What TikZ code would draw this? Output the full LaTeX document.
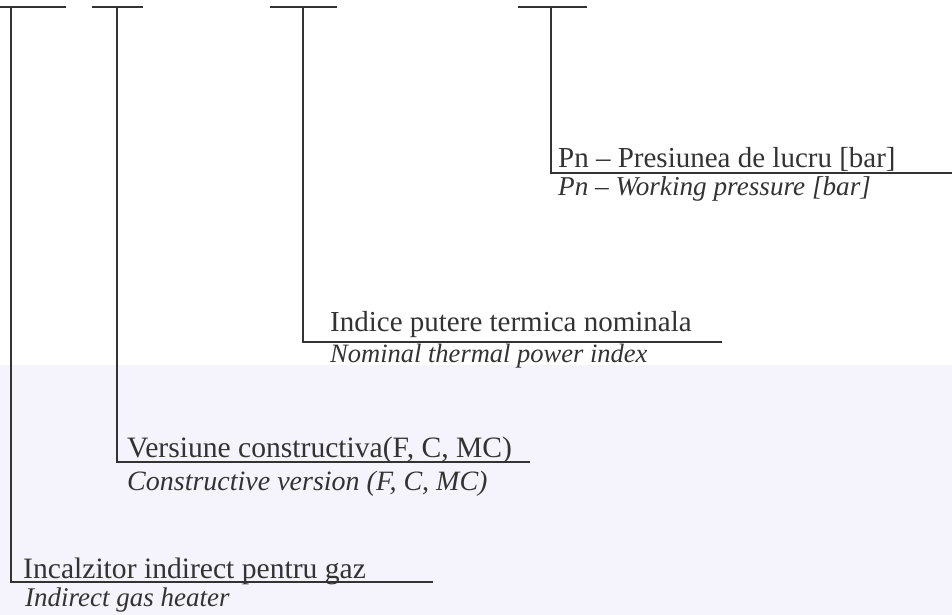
\documentclass[tikz,border=0pt]{standalone}
\usepackage{fontspec}
\setmainfont{Liberation Serif}
\usetikzlibrary{backgrounds}
\definecolor{scanink}{HTML}{333333}
\definecolor{paper}{HTML}{F5F4FC}

\begin{document}
\begin{tikzpicture} [x=1pt, y=-1pt]
\tikzstyle{every node}=[inner sep=0pt, anchor=base west, text=scanink];
\tikzstyle{ro}=[font=\fontsize{29}{32}\selectfont];
\tikzstyle{en}=[font=\fontsize{26.5}{30}\selectfont\itshape];
\tikzstyle{lead}=[draw=scanink, line width=1.3pt];
\useasboundingbox (0,0) rectangle (952,615);
\fill [paper] (0,365) rectangle (952,615);
% top marks
\coordinate (t1) at (11,7);
\coordinate (t2) at (117,7);
\coordinate (t3) at (303,7);
\coordinate (t4) at (551,7);
\draw [lead] (0,7) -- (66,7) (92,7) -- (143,7) (270,7) -- (337,7) (518,7) -- (587,7);
% corners and line ends
\coordinate (c1) at (11,582);
\coordinate (c2) at (117,462);
\coordinate (c3) at (303,342);
\coordinate (c4) at (551,173);
\coordinate (e1) at (433,582);
\coordinate (e2) at (530,462);
\coordinate (e3) at (722,342);
\coordinate (e4) at (952,173);
\node [ro, font=\fontsize{29.6}{32}\selectfont] (ro1) at (23,578) {Incalzitor indirect pentru gaz};
\node [en, font=\fontsize{27}{30}\selectfont\itshape] (en1) at (25,606) {Indirect gas heater};
\node [ro, font=\fontsize{29.6}{32}\selectfont] (ro2) at (127,457) {Versiune constructiva(F, C, MC)};
\node [en, font=\fontsize{28}{30}\selectfont\itshape] (en2) at (127,490) {Constructive version (F, C, MC)};
\node [ro] (ro3) at (330,331) {Indice putere termica nominala};
\node [en] (en3) at (330,362) {Nominal thermal power index};
\node [ro] (ro4) at (558,167) {Pn -- Presiunea de lucru [bar]};
\node [en, font=\fontsize{27.2}{30}\selectfont\itshape] (en4) at (558,195) {Pn -- Working pressure [bar]};
\draw [lead] (t1) -- (c1) -- (e1) % leaders
(t2) -- (c2) -- (e2)
(t3) -- (c3) -- (e3)
(t4) -- (c4) -- (e4);
\end{tikzpicture}
\end{document}
